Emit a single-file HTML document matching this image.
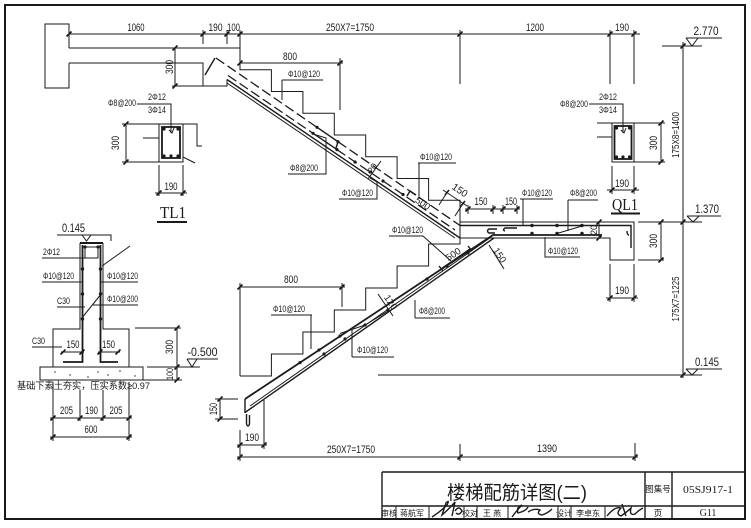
<!DOCTYPE html>
<html><head><meta charset="utf-8">
<style>
html,body{margin:0;padding:0;background:#fff;}
svg{display:block;}
text{font-family:"Liberation Sans Narrow","Liberation Sans","DejaVu Sans",sans-serif;fill:#1a1a1a;}
.l{stroke:#1a1a1a;stroke-width:1;fill:none;}
.m{stroke:#1a1a1a;stroke-width:1.4;fill:none;}
.b{stroke:#1a1a1a;stroke-width:1.8;fill:none;}
.d{stroke:#1a1a1a;stroke-width:1.3;fill:none;stroke-dasharray:10 4;}
.t{stroke:#1a1a1a;stroke-width:1.6;fill:none;}
.dim{font-size:11px;}
.rb{font-size:9.5px;}
.cj{font-family:"Liberation Sans","Noto Sans CJK SC",sans-serif;}
.sf{font-family:"Liberation Serif","DejaVu Serif",serif;}
</style></head><body>
<svg width="751" height="528" viewBox="0 0 751 528" xmlns="http://www.w3.org/2000/svg">
<rect x="0" y="0" width="751" height="528" fill="#fff"/>
<!-- frame -->
<rect x="5" y="5" width="740" height="514" fill="none" stroke="#1a1a1a" stroke-width="2"/>

<!-- title block -->
<path class="m" d="M382 472H745M382 472V519M382 506H745M645 472V519M672 472V519"/>
<path class="l" d="M396 506V519M429 506V519M464 506V519M477 506V519M508 506V519M558 506V519M571 506V519M605 506V519"/>
<text class="cj" x="517" y="499" font-size="19" text-anchor="middle" textLength="140" lengthAdjust="spacingAndGlyphs">楼梯配筋详图(二)</text>
<text class="cj" x="658" y="492" font-size="8.5" text-anchor="middle">图集号</text>
<text class="sf" x="708" y="493" font-size="10" text-anchor="middle" textLength="50" lengthAdjust="spacingAndGlyphs">05SJ917-1</text>
<text class="cj" x="658" y="516" font-size="8.5" text-anchor="middle">页</text>
<text class="sf" x="708" y="516" font-size="10" text-anchor="middle">G11</text>
<g class="cj" font-size="8" text-anchor="middle">
<text x="389" y="516">审核</text>
<text x="412" y="516">蒋航军</text>
<text x="470" y="516">校对</text>
<text x="492" y="516">王 燕</text>
<text x="564" y="516">设计</text>
<text x="588" y="516">李卓东</text>
</g>
<path class="m" d="M432 517Q440 512 447 505Q450 499 446 503L442 515Q450 508 455 502L452 516M455 511q4 -6 7 0q-3 5 -6 2"/>
<path class="m" d="M512 517q6 -8 10 -12q-6 2 -4 8q8 -2 10 -6M528 512q6 -4 12 -2q-4 4 2 5q6 -2 10 -6"/>
<path class="m" d="M607 516q8 -10 14 -8q-6 6 0 8q6 -4 10 -8q-2 8 4 6q4 -4 8 -6M622 504l4 12"/>

<!-- ticks -->
<path class="t" d="M66.5 36.5l5-5M200.5 36.5l5-5M224.5 36.5l5-5M237.5 36.5l5-5M457.5 36.5l5-5M607.5 36.5l5-5M631.5 36.5l5-5M237.5 65.5l5-5M337.5 65.5l5-5M172.5 50.5l5-5M172.5 88.5l5-5M123.5 126.5l5-5M123.5 164.5l5-5M156.5 195.5l5-5M180.5 195.5l5-5M658.5 125.5l5-5M658.5 164.5l5-5M609.5 192.5l5-5M631.5 192.5l5-5M658.5 224.5l5-5M658.5 262.5l5-5M607.5 300.5l5-5M631.5 300.5l5-5M596.5 224.5l5-5M596.5 240.5l5-5M465.5 211.5l5-5M490.5 211.5l5-5M500.5 211.5l5-5M514.5 211.5l5-5M680.5 48.5l5-5M680.5 224.5l5-5M680.5 377.5l5-5M237.5 289.5l5-5M339.5 289.5l5-5M174.5 330.5l5-5M174.5 369.5l5-5M174.5 382.5l5-5M60.5 354.5l5-5M79.5 354.5l5-5M97.5 354.5l5-5M115.5 354.5l5-5M50.5 420.5l5-5M77.5 420.5l5-5M100.5 420.5l5-5M126.5 420.5l5-5M50.5 439.5l5-5M126.5 439.5l5-5M217.5 401.5l5-5M217.5 421.5l5-5M237.5 447.5l5-5M261.5 447.5l5-5M237.5 459.5l5-5M457.5 459.5l5-5M632.5 459.5l5-5"/>

<!-- top dimension -->
<path class="l" d="M69 34H640M203 30V44M227 30V44M240 30V63M460 30V84M610 30V84M634 30V84"/>
<g class="dim" text-anchor="middle">
<text x="136" y="31" textLength="17" lengthAdjust="spacingAndGlyphs">1060</text>
<text x="215.5" y="31" textLength="14" lengthAdjust="spacingAndGlyphs">190</text>
<text x="233.5" y="31" textLength="13" lengthAdjust="spacingAndGlyphs">100</text>
<text x="350" y="31" textLength="48" lengthAdjust="spacingAndGlyphs">250X7=1750</text>
<text x="535" y="31" textLength="18" lengthAdjust="spacingAndGlyphs">1200</text>
<text x="622" y="31" textLength="14" lengthAdjust="spacingAndGlyphs">190</text>
</g>

<!-- top landing / wall -->
<path class="l" d="M69 48V24H45V88H69V63"/>
<path class="l" d="M69 48H240M69 63H203V86H227V79.5M172 86H203M175 48V86"/>
<text class="dim" transform="translate(173,67) rotate(-90)" text-anchor="middle" textLength="14" lengthAdjust="spacingAndGlyphs">300</text>

<!-- upper flight steps + landing + beam -->
<path class="l" d="M240 48V69.75H271.4V91.5H302.9V113.25H334.3V135H365.7V156.75H397.1V178.5H428.6V200.25H460V222H634V260H610V238H460"/>
<path class="m" d="M227 79.5L460 238"/>
<path class="l" d="M227 83L455 238"/>
<path class="d" d="M216 58L317 127.3"/>
<path class="d" d="M338 141.7L460 225.5"/>
<path class="m" d="M317 127.3L338 141.7L336 148M215 58L205 75"/>
<path class="d" d="M228 75.5L313 133.3"/>
<path class="d" d="M337 149.6L455 230"/>
<path class="m" d="M313 133.3L337 149.6"/>
<path class="m" d="M460 225.5H631V248M627 231q0 4 2 4"/>
<g fill="#1a1a1a">
<circle cx="317" cy="127.3" r="1.6"/><circle cx="313" cy="133.3" r="1.6"/><circle cx="338" cy="141.7" r="1.6"/><circle cx="337" cy="149.6" r="1.6"/><circle cx="355" cy="162" r="1.6"/><circle cx="383" cy="181" r="1.6"/><circle cx="403" cy="194.5" r="1.6"/><circle cx="370" cy="172" r="1.6"/>
<circle cx="532" cy="225.5" r="1.7"/><circle cx="557" cy="225.5" r="1.7"/><circle cx="582" cy="225.5" r="1.7"/><circle cx="532" cy="233.5" r="1.7"/><circle cx="557" cy="233.5" r="1.7"/><circle cx="582" cy="233.5" r="1.7"/>
</g>
<path class="l" d="M557 233.5L582 226"/>
<path class="m" d="M497 229h-8q-3 2 0 4h6M517 228h-12q-3 2 0 3"/>

<!-- upper 800 -->
<path class="l" d="M240 63H343M340 58V110"/>
<text class="dim" x="290" y="60" text-anchor="middle" textLength="14" lengthAdjust="spacingAndGlyphs">800</text>

<!-- upper labels -->
<g class="rb">
<text x="288" y="77" textLength="32" lengthAdjust="spacingAndGlyphs">Φ10@120</text>
<text x="290" y="171" textLength="28" lengthAdjust="spacingAndGlyphs">Φ8@200</text>
<text x="342" y="196" textLength="31" lengthAdjust="spacingAndGlyphs">Φ10@120</text>
<text x="420" y="160" textLength="32" lengthAdjust="spacingAndGlyphs">Φ10@120</text>
<text x="522" y="196" textLength="30" lengthAdjust="spacingAndGlyphs">Φ10@120</text>
<text x="570" y="196" textLength="27" lengthAdjust="spacingAndGlyphs">Φ8@200</text>
<text x="548" y="254" textLength="30" lengthAdjust="spacingAndGlyphs">Φ10@120</text>
</g>
<path class="l" d="M282 80H323M282 80V100M288 174H326V138L313 134M339 199H377V182L370 178M418 163H456M419 163V199M520 199H553M523 199V225M568 200H598M568 200V231M545 237V257H580"/>
<path class="l" d="M368 179L381 161"/>
<text transform="translate(375,170) rotate(-56)" font-size="9" text-anchor="middle">20</text>
<path class="l" d="M443 190L467 206M447 192.5L439 205M463 203.3L455 216"/>
<path class="t" d="M445 195l4-5M461 206l4-5"/>
<text transform="translate(458,193) rotate(34)" font-size="10" text-anchor="middle">150</text>
<text transform="translate(421,206) rotate(34)" font-size="9.5" text-anchor="middle">500</text>
<path class="m" d="M407 196l3-5l6 4"/>
<path class="l" d="M465 209H520M468 205V214M493 205V214M503 205V214M517 205V214"/>
<text class="dim" x="481" y="205" text-anchor="middle" textLength="13" lengthAdjust="spacingAndGlyphs">150</text>
<text class="dim" x="511" y="205" text-anchor="middle" textLength="12" lengthAdjust="spacingAndGlyphs">150</text>
<path class="l" d="M599 222V238"/>
<text transform="translate(597,230) rotate(-90)" font-size="9" text-anchor="middle">20</text>

<!-- QL1 beam dims -->
<path class="l" d="M638 260H664M661 222V260M610 264V302M634 264V302M606 298H638"/>
<text class="dim" transform="translate(657,241) rotate(-90)" text-anchor="middle" textLength="14" lengthAdjust="spacingAndGlyphs">300</text>
<text class="dim" x="622" y="294" text-anchor="middle" textLength="14" lengthAdjust="spacingAndGlyphs">190</text>

<!-- QL1 section -->
<text class="rb" x="560" y="107" textLength="28" lengthAdjust="spacingAndGlyphs">Φ8@200</text>
<text class="rb" x="599" y="100" textLength="18" lengthAdjust="spacingAndGlyphs">2Φ12</text>
<text class="rb" x="599" y="113" textLength="18" lengthAdjust="spacingAndGlyphs">3Φ14</text>
<path class="l" d="M589 104H623V133M621 130l3 3l2 -5"/>
<path class="l" d="M597 123H665M597 137H612M612 123V162H665M634 123V162M661 123V162"/>
<rect x="614.5" y="126" width="17" height="33" class="b"/>
<g fill="#1a1a1a"><circle cx="616.5" cy="128" r="1.6"/><circle cx="629.5" cy="128" r="1.6"/><circle cx="616.5" cy="157" r="1.6"/><circle cx="623" cy="157" r="1.6"/><circle cx="629.5" cy="157" r="1.6"/></g>
<text class="dim" transform="translate(657,143) rotate(-90)" text-anchor="middle" textLength="14" lengthAdjust="spacingAndGlyphs">300</text>
<path class="l" d="M612 166V194M634 166V194M607 190H639"/>
<text class="dim" x="622" y="187" text-anchor="middle" textLength="14" lengthAdjust="spacingAndGlyphs">190</text>
<text class="sf" x="612" y="210" font-size="17" textLength="26" lengthAdjust="spacingAndGlyphs">QL1</text>
<path d="M611 213.5H640" stroke="#1a1a1a" stroke-width="2"/>

<!-- elevations right -->
<path class="l" d="M662 46H702M686 38H722M686 38L692 46L698 38M638 222H702M687 216H721M687 216L693 222L699 216M378 375H702M686 369H722M686 369L692 375L698 369M683 42V378"/>
<text x="706" y="35" font-size="12" text-anchor="middle" textLength="25" lengthAdjust="spacingAndGlyphs">2.770</text>
<text x="707" y="213" font-size="12" text-anchor="middle" textLength="24" lengthAdjust="spacingAndGlyphs">1.370</text>
<text x="707" y="366" font-size="12" text-anchor="middle" textLength="24" lengthAdjust="spacingAndGlyphs">0.145</text>
<text transform="translate(679,135) rotate(-90)" font-size="10" text-anchor="middle" textLength="46" lengthAdjust="spacingAndGlyphs">175X8=1400</text>
<text transform="translate(679,299) rotate(-90)" font-size="10" text-anchor="middle" textLength="45" lengthAdjust="spacingAndGlyphs">175X7=1225</text>

<!-- lower flight -->
<path class="l" d="M240 376H271.4V354H302.9V332H334.3V310H365.7V288H397.1V266H428.6V244H460V222M240 283V376"/>
<path class="m" d="M245 412.5L494 238"/>
<path class="l" d="M250 406L490 237.8"/>
<path class="b" d="M245 399L493 235H602"/>
<path class="m" d="M245 399V413M246.5 414V424Q248 428 249.5 424V415"/>
<path class="l" d="M340 333.5L365 325L388 311"/>
<g fill="#1a1a1a">
<circle cx="319" cy="350" r="1.6"/><circle cx="324" cy="354" r="1.6"/><circle cx="340" cy="336" r="1.6"/><circle cx="345" cy="339" r="1.6"/><circle cx="365" cy="325" r="1.6"/><circle cx="388" cy="310" r="1.6"/><circle cx="427" cy="279" r="1.6"/><circle cx="447" cy="266" r="1.6"/><circle cx="468" cy="253" r="1.6"/><circle cx="300" cy="362.6" r="1.6"/>
</g>
<path class="l" d="M240 287H345M342 283V307"/>
<text class="dim" x="291" y="283" text-anchor="middle" textLength="14" lengthAdjust="spacingAndGlyphs">800</text>
<g class="rb">
<text x="273" y="312" textLength="32" lengthAdjust="spacingAndGlyphs">Φ10@120</text>
<text x="357" y="353" textLength="31" lengthAdjust="spacingAndGlyphs">Φ10@120</text>
<text x="419" y="314" textLength="26" lengthAdjust="spacingAndGlyphs">Φ8@200</text>
<text x="392" y="233" textLength="31" lengthAdjust="spacingAndGlyphs">Φ10@120</text>
</g>
<path class="l" d="M271 315H312M311 315V349M352 357H394M352 357V330M415 318H450M415 318V300M389 236H423L451 261"/>
<path class="l" d="M378 294L393 316"/>
<text transform="translate(388,304) rotate(56)" font-size="9.5" text-anchor="middle">120</text>
<path class="m" d="M441 269L470 249M439 266l4 5M468 246l4 5"/>
<text transform="translate(455,257) rotate(-34)" font-size="9.5" text-anchor="middle">500</text>
<path class="l" d="M489 245L504 269"/>
<text transform="translate(497,257) rotate(56)" font-size="9.5" text-anchor="middle">150</text>
<path class="l" d="M220 399V419M215 399H238M215 419H238"/>
<text class="dim" transform="translate(217,409) rotate(-90)" text-anchor="middle" textLength="12" lengthAdjust="spacingAndGlyphs">150</text>
<path class="l" d="M240 430V461M264 400V449M237 445H267M460 444V461M635 443V461M237 457H638"/>
<text class="dim" x="252" y="441" text-anchor="middle" textLength="14" lengthAdjust="spacingAndGlyphs">190</text>
<text class="dim" x="351" y="453" text-anchor="middle" textLength="48" lengthAdjust="spacingAndGlyphs">250X7=1750</text>
<text class="dim" x="547" y="452" text-anchor="middle" textLength="20" lengthAdjust="spacingAndGlyphs">1390</text>

<!-- TL1 section -->
<text class="rb" x="108" y="106" textLength="28" lengthAdjust="spacingAndGlyphs">Φ8@200</text>
<text class="rb" x="148" y="100" textLength="18" lengthAdjust="spacingAndGlyphs">2Φ12</text>
<text class="rb" x="148" y="113" textLength="18" lengthAdjust="spacingAndGlyphs">3Φ14</text>
<path class="l" d="M137 104H171V133M169 130l3 3l2 -5"/>
<path class="l" d="M143 124H197V146H202M143 138H159M159 124V162H183V124M183 157L195 163"/>
<rect x="162" y="127" width="18" height="31" class="b"/>
<g fill="#1a1a1a"><circle cx="164" cy="129" r="1.6"/><circle cx="178" cy="129" r="1.6"/><circle cx="164" cy="156" r="1.6"/><circle cx="171" cy="156" r="1.6"/><circle cx="178" cy="156" r="1.6"/></g>
<path class="l" d="M126 124V162M122 124H143M122 162H159"/>
<text class="dim" transform="translate(119,143) rotate(-90)" text-anchor="middle" textLength="14" lengthAdjust="spacingAndGlyphs">300</text>
<path class="l" d="M159 165V196M183 165V196M155 193H187"/>
<text class="dim" x="171" y="190" text-anchor="middle" textLength="13" lengthAdjust="spacingAndGlyphs">190</text>
<text class="sf" x="160" y="218" font-size="17" textLength="26" lengthAdjust="spacingAndGlyphs">TL1</text>
<path d="M157 222H187" stroke="#1a1a1a" stroke-width="2"/>

<!-- wall / foundation -->
<path class="l" d="M57 235H111V241M82 235L86.5 241L91 235"/>
<text x="73.5" y="232" font-size="12" text-anchor="middle" textLength="23" lengthAdjust="spacingAndGlyphs">0.145</text>
<path class="l" d="M80 243V329H53V367M103 243V329H129V367"/>
<path d="M80 243H103" stroke="#1a1a1a" stroke-width="2"/>
<path class="b" d="M82.5 245V362H63M100.5 245V362H118"/>
<path class="l" d="M85 247H98V258H85Z"/>
<g fill="#1a1a1a"><circle cx="85" cy="247" r="1.6"/><circle cx="98" cy="247" r="1.6"/><circle cx="82.5" cy="269" r="1.7"/><circle cx="82.5" cy="294" r="1.7"/><circle cx="82.5" cy="319" r="1.7"/><circle cx="100.5" cy="269" r="1.7"/><circle cx="100.5" cy="294" r="1.7"/><circle cx="100.5" cy="319" r="1.7"/></g>
<g class="rb">
<text x="43" y="255" textLength="17" lengthAdjust="spacingAndGlyphs">2Φ12</text>
<text x="43" y="279" textLength="31" lengthAdjust="spacingAndGlyphs">Φ10@120</text>
<text x="57" y="304" textLength="13" lengthAdjust="spacingAndGlyphs">C30</text>
<text x="107" y="279" textLength="31" lengthAdjust="spacingAndGlyphs">Φ10@120</text>
<text x="107" y="302" textLength="31" lengthAdjust="spacingAndGlyphs">Φ10@200</text>
<text x="32" y="344" textLength="13" lengthAdjust="spacingAndGlyphs">C30</text>
</g>
<path class="l" d="M42 258H97M42 282H82M57 307H85M100 282H138M93 305H138M102 293L81 319M130 246L102 266M32 347H62"/>
<rect x="40" y="367" width="103" height="13" class="l"/>
<g fill="#1a1a1a"><circle cx="55" cy="372" r="0.7"/><circle cx="70" cy="375" r="0.7"/><circle cx="98" cy="372" r="0.7"/><circle cx="120" cy="371" r="0.7"/><circle cx="135" cy="376" r="0.7"/><circle cx="88" cy="377" r="0.7"/><circle cx="108" cy="375" r="0.7"/></g>
<path class="l" d="M61 352H84M98 352H120"/>
<text class="dim" x="73" y="348" text-anchor="middle" textLength="13" lengthAdjust="spacingAndGlyphs">150</text>
<text class="dim" x="108.5" y="348" text-anchor="middle" textLength="13" lengthAdjust="spacingAndGlyphs">150</text>
<path class="l" d="M135 328H181M147 367H200M143 380H182M177 328V380"/>
<text class="dim" transform="translate(173,347) rotate(-90)" text-anchor="middle" textLength="14" lengthAdjust="spacingAndGlyphs">300</text>
<text transform="translate(173,374) rotate(-90)" font-size="9" text-anchor="middle" textLength="12" lengthAdjust="spacingAndGlyphs">100</text>
<path class="l" d="M187 359H218M187 359L192 367L197 359"/>
<text x="202.5" y="356" font-size="12" text-anchor="middle" textLength="30" lengthAdjust="spacingAndGlyphs">-0.500</text>
<text class="cj" x="17" y="389" font-size="9.5" textLength="133" lengthAdjust="spacingAndGlyphs">基础下素土夯实，压实系数≥0.97</text>
<path class="l" d="M53 382V441M129 382V441M80 390V421M103 390V421M50 418H132M50 437H132"/>
<g class="dim" text-anchor="middle">
<text x="66.5" y="414" textLength="13" lengthAdjust="spacingAndGlyphs">205</text>
<text x="91.5" y="414" textLength="13" lengthAdjust="spacingAndGlyphs">190</text>
<text x="116" y="414" textLength="13" lengthAdjust="spacingAndGlyphs">205</text>
<text x="91" y="433" textLength="13" lengthAdjust="spacingAndGlyphs">600</text>
</g>
</svg>
</body></html>
